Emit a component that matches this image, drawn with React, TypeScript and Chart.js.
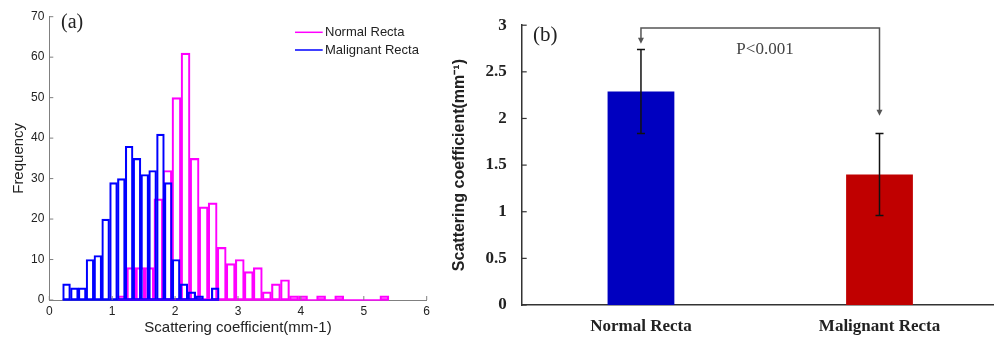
import React, { useEffect, useRef } from 'react';
import { Chart, registerables } from 'chart.js';

Chart.register(...registerables);

const SANS = "'Liberation Sans', Arial, sans-serif";
const SERIF = "'Liberation Serif', 'Times New Roman', serif";

// ---------- Panel (a): histogram ----------
const histXMin = 0;
const histXMax = 6;
const histYMin = 0;
const histYMax = 70;
const histXStep = 1;
const histYStep = 10;
const histXTitle = 'Scattering coefficient(mm-1)';
const histYTitle = 'Frequency';
const panelALetter = '(a)';

const normalLabel = 'Normal Recta';
const malignantLabel = 'Malignant Recta';

const normalBinCenters = [
  1.160, 1.304, 1.447, 1.591, 1.735, 1.878, 2.022, 2.166, 2.310, 2.453,
  2.597, 2.741, 2.884, 3.028, 3.172, 3.315, 3.459, 3.603, 3.747, 3.890,
  4.034, 4.178, 4.321, 4.465, 4.609, 4.752, 4.896, 5.040, 5.184, 5.327,
];
const normalCounts = [
  1, 8, 8, 8, 25, 32, 50, 61, 35, 23,
  24, 13, 9, 10, 7, 8, 2, 4, 5, 1,
  1, 0, 1, 0, 1, 0, 0, 0, 0, 1,
];

const malignantBinCenters = [
  0.274, 0.399, 0.523, 0.647, 0.772, 0.896, 1.021, 1.145, 1.269, 1.394,
  1.518, 1.643, 1.767, 1.891, 2.016, 2.140, 2.265, 2.389, 2.513, 2.638,
];
const malignantCounts = [
  4, 3, 3, 10, 11, 20, 29, 30, 38, 35,
  31, 32, 41, 29, 10, 4, 2, 1, 0, 3,
];

// ---------- Panel (b): bar chart with error bars ----------
const groupLabels = ['Normal Recta', 'Malignant Recta'];
const groupMeans = [2.29, 1.40];
const groupLower = [1.84, 0.96];
const groupUpper = [2.74, 1.84];
const groupColors = ['#0000c0', '#c00000'];
const barYMin = 0;
const barYMax = 3;
const barYStep = 0.5;
const barYTitle = 'Scattering coefficient(mm\u207B\u00B9)';
const bracketLevel = 2.97;
const bracketTips = [2.80, 2.03];
const pValueLabel = 'P<0.001';
const pValueX = 0.52;
const pValueY = 2.74;
const panelBLetter = '(b)';

const histPlugin = {
  id: 'histDecor',
  afterDatasetsDraw(chart: any) {
    const ctx = chart.ctx;
    const y0 = chart.scales.y.getPixelForValue(0);
    [0, 1].forEach((di) => {
      const meta = chart.getDatasetMeta(di);
      const els = meta.data;
      if (!els.length) return;
      const first = els[0];
      const last = els[els.length - 1];
      ctx.save();
      ctx.strokeStyle = chart.data.datasets[di].borderColor;
      ctx.lineWidth = 1.5;
      ctx.beginPath();
      ctx.moveTo(first.x - first.width / 2, y0);
      ctx.lineTo(last.x + last.width / 2, y0);
      ctx.stroke();
      ctx.restore();
    });
  },
  afterDraw(chart: any) {
    const { ctx, chartArea } = chart;
    const xs = chart.scales.x;
    const ys = chart.scales.y;
    ctx.save();
    ctx.strokeStyle = '#808080';
    ctx.lineWidth = 1;
    xs.ticks.forEach((_: any, i: number) => {
      const px = xs.getPixelForTick(i);
      ctx.beginPath();
      ctx.moveTo(px, chartArea.bottom);
      ctx.lineTo(px, chartArea.bottom - 4);
      ctx.stroke();
    });
    ys.ticks.forEach((_: any, i: number) => {
      const py = ys.getPixelForTick(i);
      ctx.beginPath();
      ctx.moveTo(chartArea.left, py);
      ctx.lineTo(chartArea.left + 4, py);
      ctx.stroke();
    });
    // legend
    const right = chartArea.right;
    chart.data.datasets.forEach((ds: any, k: number) => {
      const yy = chartArea.top + 15.6 + k * 17.7;
      ctx.strokeStyle = ds.borderColor;
      ctx.lineWidth = 1.5;
      ctx.beginPath();
      ctx.moveTo(right - 131.7, yy);
      ctx.lineTo(right - 104, yy);
      ctx.stroke();
      ctx.fillStyle = '#222';
      ctx.font = `13px ${SANS}`;
      ctx.textAlign = 'left';
      ctx.textBaseline = 'middle';
      ctx.fillText(ds.label, right - 101.7, yy);
    });
    // panel letter
    ctx.fillStyle = '#222';
    ctx.font = `20px ${SERIF}`;
    ctx.textAlign = 'left';
    ctx.textBaseline = 'middle';
    ctx.fillText(panelALetter, chartArea.left + 11.7, chartArea.top + 6.5);
    ctx.restore();
  },
};

const barPlugin = {
  id: 'barDecor',
  afterDatasetsDraw(chart: any) {
    const { ctx, chartArea } = chart;
    const xs = chart.scales.x;
    const ys = chart.scales.y;
    ctx.save();
    // error bars
    ctx.strokeStyle = '#111';
    ctx.lineWidth = 1.5;
    groupMeans.forEach((_, i) => {
      const px = xs.getPixelForValue(i);
      const top = ys.getPixelForValue(groupUpper[i]);
      const bot = ys.getPixelForValue(groupLower[i]);
      ctx.beginPath();
      ctx.moveTo(px, top);
      ctx.lineTo(px, bot);
      ctx.moveTo(px - 4, top);
      ctx.lineTo(px + 4, top);
      ctx.moveTo(px - 4, bot);
      ctx.lineTo(px + 4, bot);
      ctx.stroke();
    });
    // significance bracket
    const x0 = xs.getPixelForValue(0);
    const x1 = xs.getPixelForValue(1);
    const yb = ys.getPixelForValue(bracketLevel);
    const t0 = ys.getPixelForValue(bracketTips[0]);
    const t1 = ys.getPixelForValue(bracketTips[1]);
    ctx.strokeStyle = '#555';
    ctx.fillStyle = '#555';
    ctx.lineWidth = 1.5;
    ctx.beginPath();
    ctx.moveTo(x0, t0 - 5);
    ctx.lineTo(x0, yb);
    ctx.lineTo(x1, yb);
    ctx.lineTo(x1, t1 - 5);
    ctx.stroke();
    [[x0, t0], [x1, t1]].forEach(([ax, ay]) => {
      ctx.beginPath();
      ctx.moveTo(ax - 3, ay - 6);
      ctx.lineTo(ax + 3, ay - 6);
      ctx.lineTo(ax, ay);
      ctx.closePath();
      ctx.fill();
    });
    // p value
    ctx.fillStyle = '#444';
    ctx.font = `17px ${SERIF}`;
    ctx.textAlign = 'center';
    ctx.textBaseline = 'middle';
    ctx.fillText(pValueLabel, xs.getPixelForValue(pValueX), ys.getPixelForValue(pValueY));
    // panel letter
    ctx.fillStyle = '#222';
    ctx.font = `21px ${SERIF}`;
    ctx.textAlign = 'left';
    ctx.fillText(panelBLetter, chartArea.left + 11.3, chartArea.top + 10.5);
    // inward y ticks
    ctx.strokeStyle = '#333';
    ctx.lineWidth = 1.2;
    ys.ticks.forEach((_: any, i: number) => {
      const py = ys.getPixelForTick(i);
      ctx.beginPath();
      ctx.moveTo(chartArea.left, py);
      ctx.lineTo(chartArea.left + 5, py);
      ctx.stroke();
    });
    ctx.restore();
  },
};

function HistogramPanel() {
  const ref = useRef<HTMLCanvasElement | null>(null);
  useEffect(() => {
    if (!ref.current) return;
    const common = {
      backgroundColor: 'rgba(0,0,0,0)',
      borderWidth: 1.5,
      borderSkipped: false,
      barPercentage: 1,
      categoryPercentage: 1,
      grouped: false,
    };
    const chart = new Chart(ref.current, {
      type: 'bar',
      data: {
        datasets: [
          {
            ...common,
            label: normalLabel,
            data: normalBinCenters.map((x, i) => ({ x, y: normalCounts[i] })),
            borderColor: '#ff00ff',
            xAxisID: 'xn',
            yAxisID: 'y',
            order: 2,
          },
          {
            ...common,
            label: malignantLabel,
            data: malignantBinCenters.map((x, i) => ({ x, y: malignantCounts[i] })),
            borderColor: '#0000ff',
            xAxisID: 'x',
            yAxisID: 'y',
            order: 1,
          },
        ],
      } as any,
      options: {
        animation: false,
        responsive: false,
        maintainAspectRatio: false,
        layout: { padding: { left: 0, right: 13.3, top: 16.7, bottom: 0 } },
        plugins: { legend: { display: false }, tooltip: { enabled: false } },
        scales: {
          x: {
            type: 'linear',
            position: 'bottom',
            offset: false,
            min: histXMin,
            max: histXMax,
            ticks: {
              stepSize: histXStep,
              padding: 4.5,
              color: '#222',
              font: { family: SANS, size: 12 },
              maxRotation: 0,
            },
            grid: { display: false, drawTicks: false, offset: false },
            border: { display: true, color: '#808080', width: 1 },
            title: {
              display: true,
              text: histXTitle,
              color: '#222',
              font: { family: SANS, size: 15 },
              padding: { top: 0, bottom: 6 },
            },
            afterFit: (s: any) => {
              s.height = 43;
            },
          },
          xn: {
            type: 'linear',
            position: 'bottom',
            offset: false,
            display: false,
            min: histXMin,
            max: histXMax,
            grid: { offset: false },
          },
          y: {
            type: 'linear',
            min: histYMin,
            max: histYMax,
            ticks: {
              stepSize: histYStep,
              padding: 5,
              color: '#222',
              font: { family: SANS, size: 12 },
            },
            grid: { display: false, drawTicks: false },
            border: { display: true, color: '#808080', width: 1 },
            title: {
              display: true,
              text: histYTitle,
              color: '#222',
              font: { family: SANS, size: 15 },
              padding: { top: 10, bottom: 0 },
            },
            afterFit: (s: any) => {
              s.width = 49.3;
            },
          },
        },
      } as any,
      plugins: [histPlugin],
    });
    return () => chart.destroy();
  }, []);
  return (
    <canvas
      ref={ref}
      width={440}
      height={343}
      style={{ position: 'absolute', left: 0, top: 0, width: 440, height: 343 }}
    />
  );
}

function BarPanel() {
  const ref = useRef<HTMLCanvasElement | null>(null);
  useEffect(() => {
    if (!ref.current) return;
    const chart = new Chart(ref.current, {
      type: 'bar',
      data: {
        datasets: [
          {
            label: 'Scattering coefficient',
            data: groupMeans.map((y, i) => ({ x: i, y })),
            backgroundColor: groupColors,
            borderWidth: 0,
            barPercentage: 0.28,
            categoryPercentage: 1,
          },
        ],
      } as any,
      options: {
        animation: false,
        responsive: false,
        maintainAspectRatio: false,
        layout: { padding: { left: 0, right: 0, top: 12.5, bottom: 0 } },
        plugins: { legend: { display: false }, tooltip: { enabled: false } },
        scales: {
          x: {
            type: 'linear',
            offset: false,
            min: -0.5,
            max: 1.48,
            afterBuildTicks: (s: any) => {
              s.ticks = groupLabels.map((_, i) => ({ value: i }));
            },
            ticks: {
              callback: (v: any) => groupLabels[v] ?? '',
              padding: 11.5,
              color: '#222',
              font: { family: SERIF, size: 17, weight: 'bold' },
              maxRotation: 0,
              autoSkip: false,
            },
            grid: { display: false, drawTicks: false, offset: false },
            border: { display: true, color: '#333', width: 1.5 },
            afterFit: (s: any) => {
              s.height = 38;
            },
          },
          y: {
            type: 'linear',
            min: barYMin,
            max: barYMax,
            ticks: {
              stepSize: barYStep,
              padding: 15,
              color: '#222',
              font: { family: SERIF, size: 17, weight: 'bold' },
              callback: (v: any) => String(Number(v)),
            },
            grid: { display: false, drawTicks: false },
            border: { display: true, color: '#333', width: 1.5 },
            title: {
              display: true,
              text: barYTitle,
              color: '#222',
              font: { family: SANS, size: 16, weight: 'bold' },
              padding: { top: 9.8, bottom: 0 },
            },
            afterFit: (s: any) => {
              s.width = 81.7;
            },
          },
        },
      } as any,
      plugins: [barPlugin],
    });
    return () => chart.destroy();
  }, []);
  return (
    <canvas
      ref={ref}
      width={554}
      height={343}
      style={{ position: 'absolute', left: 440, top: 0, width: 554, height: 343 }}
    />
  );
}

export default function App() {
  return (
    <div
      style={{
        position: 'absolute',
        left: 0,
        top: 0,
        width: 994,
        height: 343,
        background: '#ffffff',
        overflow: 'hidden',
      }}
    >
      <HistogramPanel />
      <BarPanel />
    </div>
  );
}
